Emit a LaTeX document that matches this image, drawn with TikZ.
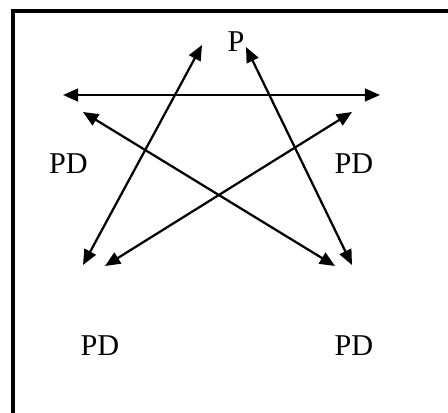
\documentclass[tikz,border=0pt]{standalone}
\usepackage{fontspec}
\setmainfont{Liberation Serif}
\usetikzlibrary{arrows.meta}

\begin{document}
\begin{tikzpicture}[every node/.style={font=\fontsize{21.5}{25}\selectfont, inner sep=0pt}, >={Triangle[length=3.8mm, width=3.2mm]}, link/.style={<->, line width=1.6pt}]
	\useasboundingbox (0,0) rectangle (11.2,10.3);
	\clip (0,0) rectangle (11.2,10.3);
	\draw[line width=2.8pt] (11.6,10.025) -- (0.325,10.025) -- (0.325,-0.4);
	\node (p) at (5.9,9.25) {P};
	\node (pdtl) at (1.71,6.22) {PD};
	\node (pdtr) at (8.85,6.22) {PD};
	\node (pdbl) at (2.5,1.65) {PD};
	\node (pdbr) at (8.85,1.65) {PD};
	\coordinate (h1) at (1.575,7.925); \coordinate (h2) at (9.5,7.925);
	\coordinate (a1) at (5.05,9.175);  \coordinate (a2) at (2.075,3.675);
	\coordinate (b1) at (6.15,9.125);  \coordinate (b2) at (8.8,3.675);
	\coordinate (c1) at (2.075,7.5);   \coordinate (c2) at (8.375,3.65);
	\coordinate (d1) at (8.8,7.5);     \coordinate (d2) at (2.625,3.65);
	\foreach \k in {h,a,b,c,d} {\draw[link] (\k1) -- (\k2);}
\end{tikzpicture}
\end{document}
